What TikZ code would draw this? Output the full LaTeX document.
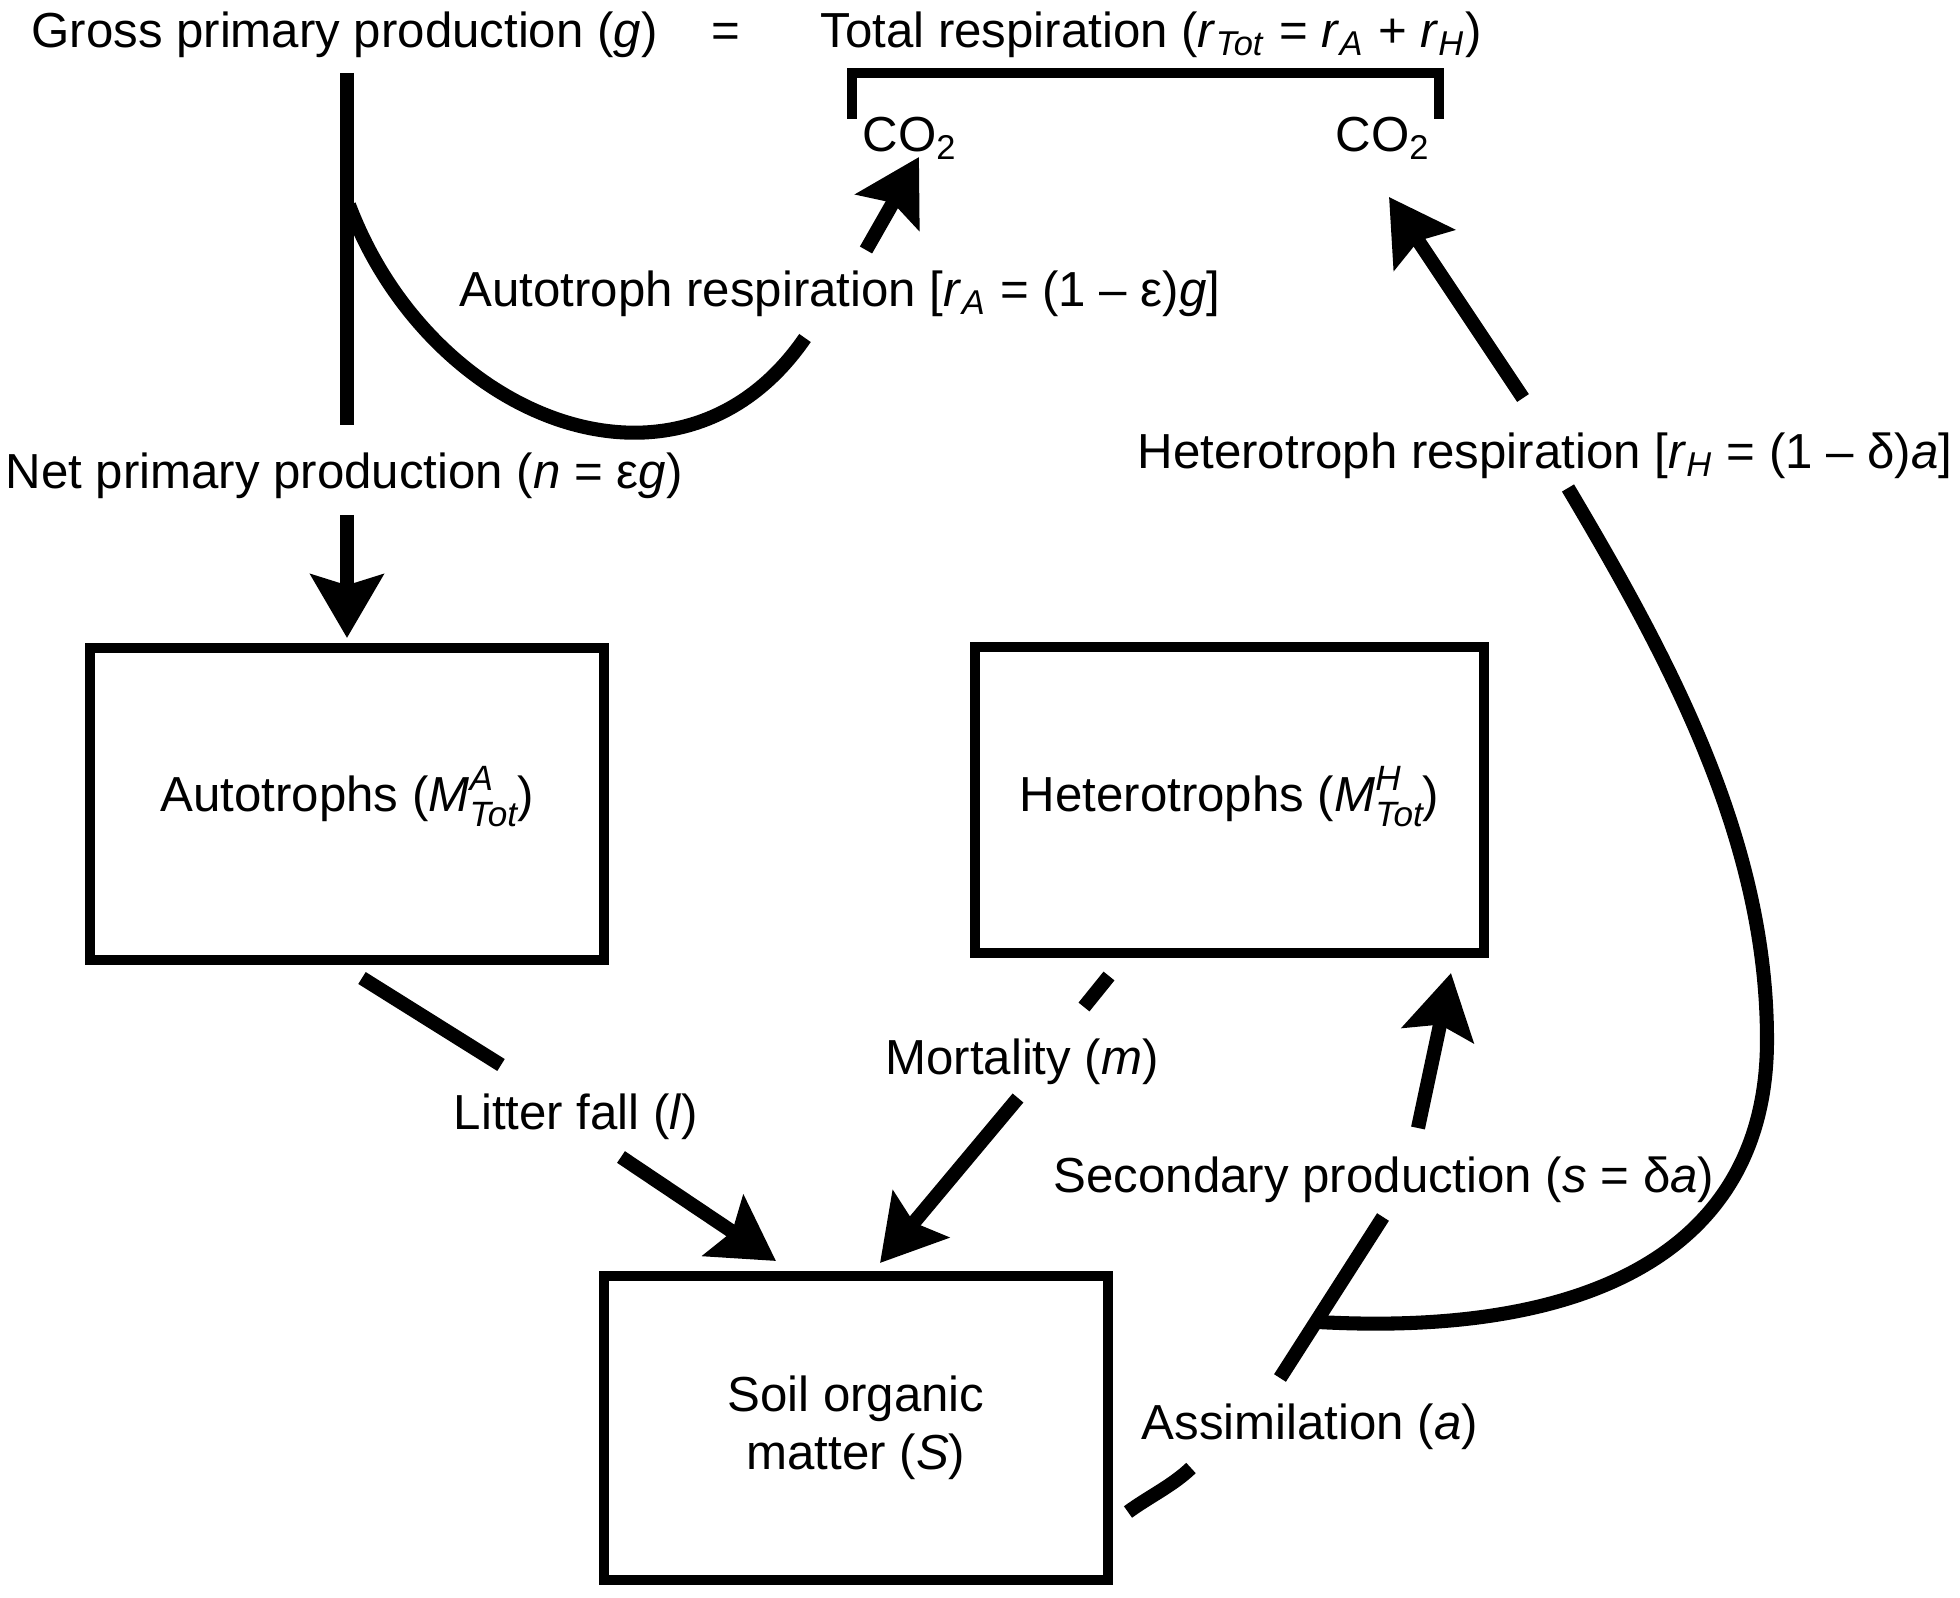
\documentclass[tikz,border=0pt]{standalone}
\usepackage{fontspec}
\setmainfont{Liberation Sans}
\usetikzlibrary{arrows.meta}
\newcommand{\rsub}[1]{\textit{r}\textsubscript{\textit{#1}}}
\newcommand{\Mtot}[1]{\textit{M}\rlap{\raisebox{0.42em}{\fontsize{10}{10}\selectfont\itshape #1}}\raisebox{-0.32em}{\fontsize{10}{10}\selectfont\itshape Tot}}
\tikzset{
  lbl/.style={font=\fontsize{14}{16.5}\selectfont, inner sep=0pt, anchor=base},
  stockbox/.style={draw, line width=3pt, inner sep=0pt, font=\fontsize{14}{16.5}\selectfont},
  flowline/.style={line width=4pt},
  flowarr/.style={line width=4pt, -{Stealth[length=18pt,width=20.5pt,inset=3pt]}},
  bracketline/.style={line width=2.8pt},
}
\begin{document}
\begin{tikzpicture}[x=0.1mm,y=-0.1mm]
\useasboundingbox (0,0) rectangle (1960,1598);

% texts
\node[lbl] (gpp) at (344.5,48) {Gross primary production (\textit{g})};
\node[lbl] (eq) at (726,48) {=};
\node[lbl] (tot) at (1151,48) {Total respiration (\rsub{Tot} = \rsub{A} + \rsub{H})};
\node[lbl] (co2a) at (910,152) {CO\textsubscript{2}};
\node[lbl] (co2h) at (1383,152) {CO\textsubscript{2}};
\node[lbl] (arl) at (840,307) {Autotroph respiration [\rsub{A} = (1 – ε)\textit{g}]};
\node[lbl] (npp) at (344,489) {Net primary production (\textit{n} = ε\textit{g})};
\node[lbl] (hrl) at (1545,469) {Heterotroph respiration [\rsub{H} = (1 – δ)\textit{a}]};
\node[lbl] (mort) at (1022,1074) {Mortality (\textit{m})};
\node[lbl] (litt) at (576,1129) {Litter fall (\textit{l})};
\node[lbl] (sec) at (1384,1192) {Secondary production (\textit{s} = δ\textit{a})};
\node[lbl] (assim) at (1310,1439) {Assimilation (\textit{a})};

% boxes
\node[stockbox, minimum width=51.4mm, minimum height=31.2mm, text height=5mm, text depth=3.6mm] (auto) at (347,804) {Autotrophs (\Mtot{A})};
\node[stockbox, minimum width=50.9mm, minimum height=30.6mm, text height=5.5mm, text depth=3.3mm] (het) at (1229.5,800) {Heterotrophs (\Mtot{H})};
\node[stockbox, minimum width=50.4mm, minimum height=30.4mm, align=center] (soil) at (856,1428) {Soil organic\\matter (\textit{S})};

% coordinates
\coordinate (gtop) at (347,73);
\coordinate (gbot) at (347,425);
\coordinate (ac0) at (349,205);
\coordinate (ac1) at (805,338);
\coordinate (aa0) at (866,250);
\coordinate (aa1) at (919,157);
\coordinate (na0) at (347,515);
\coordinate (na1) at (347,638);
\coordinate (bl) at (852,119);
\coordinate (bt) at (1439,73);
\coordinate (br) at (1439,119);
\coordinate (lf0) at (362,978);
\coordinate (lf1) at (501,1065);
\coordinate (lf2) at (621,1157);
\coordinate (lf3) at (776,1261);
\coordinate (mo0) at (1109,976);
\coordinate (mo1) at (1084,1007);
\coordinate (mo2) at (1018,1098);
\coordinate (mo3) at (880,1263);
\coordinate (as0) at (1128,1512);
\coordinate (as1) at (1191,1468);
\coordinate (as2) at (1280,1378);
\coordinate (as3) at (1383,1217);
\coordinate (as4) at (1418,1128);
\coordinate (as5) at (1451,973);
\coordinate (hc0) at (1318,1322);
\coordinate (hc1) at (1767,1040);
\coordinate (hc2) at (1568,488);
\coordinate (ha0) at (1523,398);
\coordinate (ha1) at (1389,197);

% connectors
\draw[flowline] (gtop) -- (gbot);
\draw[flowline] (ac0) .. controls (430,420) and (680,520) .. (ac1);
\draw[flowarr] (aa0) -- (aa1);
\draw[flowarr] (na0) -- (na1);
\draw[bracketline] (bl) |- (bt) -- (br);
\draw[flowline] (lf0) -- (lf1);
\draw[flowarr] (lf2) -- (lf3);
\draw[flowline] (mo0) -- (mo1);
\draw[flowarr] (mo2) -- (mo3);
\draw[flowline] (as0) .. controls (1150,1496) and (1172,1486) .. (as1);
\draw[flowline] (as2) -- (as3);
\draw[flowarr] (as4) -- (as5);
\draw[flowline] (hc0) .. controls (1590,1337) and (1767,1250) .. (hc1)
                     .. controls (1767,840) and (1670,660) .. (hc2);
\draw[flowarr] (ha0) -- (ha1);
\end{tikzpicture}
\end{document}
